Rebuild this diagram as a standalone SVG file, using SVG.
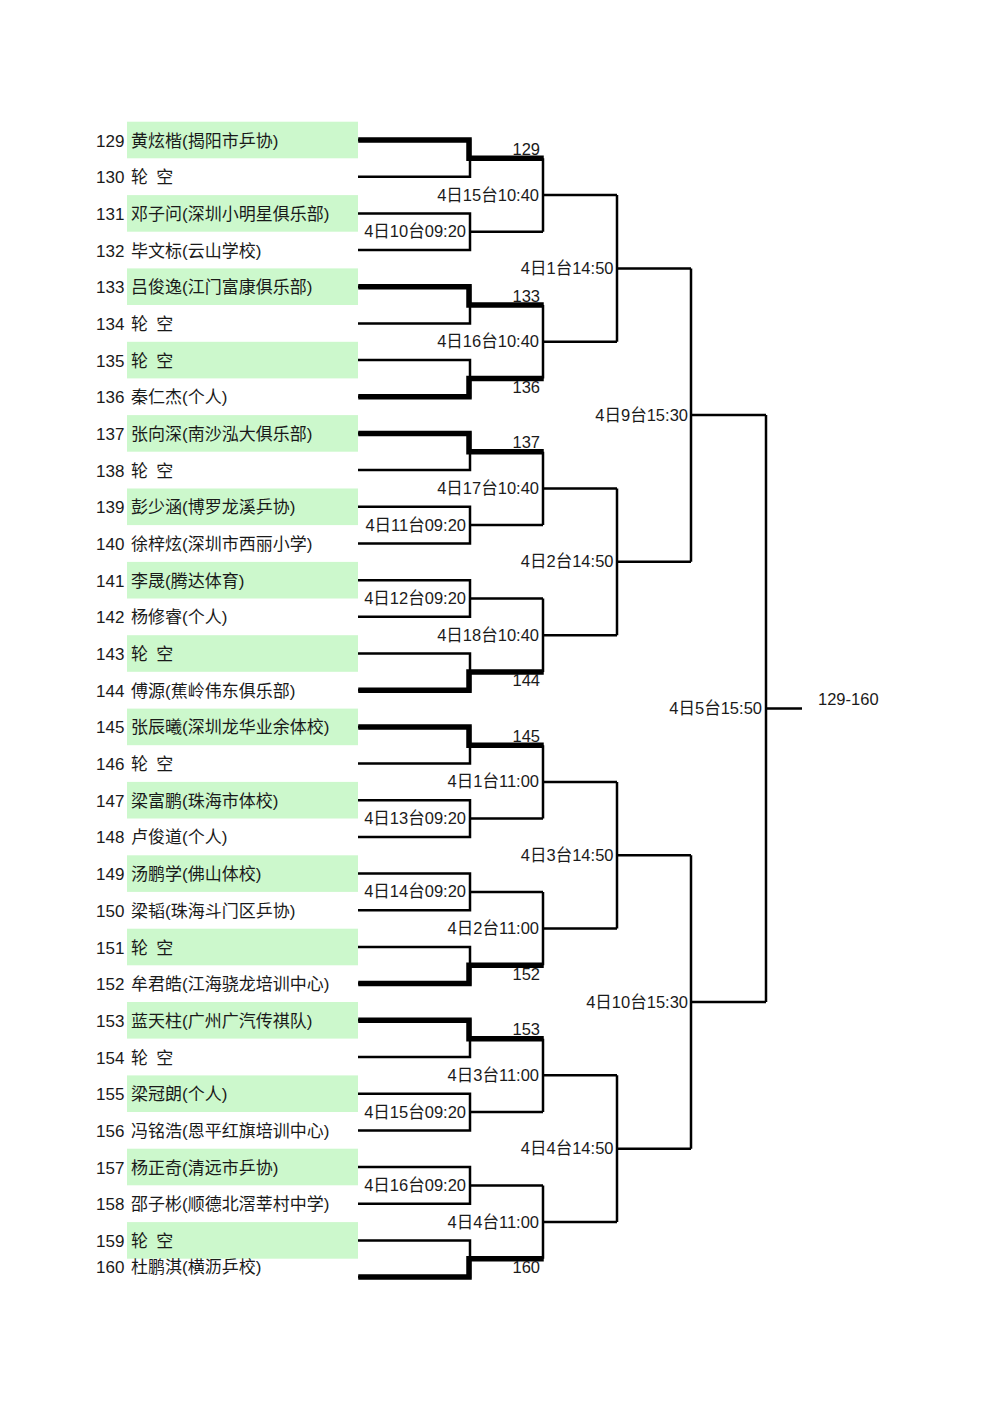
<svg xmlns="http://www.w3.org/2000/svg" width="1000" height="1414" viewBox="0 0 1000 1414">
<style>
text{font-family:"Liberation Sans","Noto Sans CJK SC",sans-serif;font-size:17px;fill:#1a1a1a}
#match-labels text{font-size:16.5px}
.bg{fill:#ccf8cc}
.thin{fill:none;stroke:#000;stroke-width:2.5}
.thick{fill:none;stroke:#000;stroke-width:5.5;stroke-linejoin:miter;stroke-linecap:square}
.e{text-anchor:end}
.by{word-spacing:3.5px}
</style>
<rect width="1000" height="1414" fill="#fff"/>
<g id="players">
<g id="p129"><rect class="bg" x="127" y="121.7" width="231" height="36.6"/><text x="96" y="146.5">129<tspan x="131">黄炫楷(揭阳市乒协)</tspan></text></g>
<g id="p130"><text x="96" y="183.2">130<tspan x="131" class="by">轮 空</tspan></text></g>
<g id="p131"><rect class="bg" x="127" y="195.1" width="231" height="36.6"/><text x="96" y="219.9">131<tspan x="131">邓子问(深圳小明星俱乐部)</tspan></text></g>
<g id="p132"><text x="96" y="256.5">132<tspan x="131">毕文标(云山学校)</tspan></text></g>
<g id="p133"><rect class="bg" x="127" y="268.4" width="231" height="36.6"/><text x="96" y="293.2">133<tspan x="131">吕俊逸(江门富康俱乐部)</tspan></text></g>
<g id="p134"><text x="96" y="329.9">134<tspan x="131" class="by">轮 空</tspan></text></g>
<g id="p135"><rect class="bg" x="127" y="341.8" width="231" height="36.6"/><text x="96" y="366.6">135<tspan x="131" class="by">轮 空</tspan></text></g>
<g id="p136"><text x="96" y="403.3">136<tspan x="131">秦仁杰(个人)</tspan></text></g>
<g id="p137"><rect class="bg" x="127" y="415.1" width="231" height="36.6"/><text x="96" y="439.9">137<tspan x="131">张向深(南沙泓大俱乐部)</tspan></text></g>
<g id="p138"><text x="96" y="476.6">138<tspan x="131" class="by">轮 空</tspan></text></g>
<g id="p139"><rect class="bg" x="127" y="488.5" width="231" height="36.6"/><text x="96" y="513.3">139<tspan x="131">彭少涵(博罗龙溪乒协)</tspan></text></g>
<g id="p140"><text x="96" y="550">140<tspan x="131">徐梓炫(深圳市西丽小学)</tspan></text></g>
<g id="p141"><rect class="bg" x="127" y="561.9" width="231" height="36.6"/><text x="96" y="586.7">141<tspan x="131">李晟(腾达体育)</tspan></text></g>
<g id="p142"><text x="96" y="623.3">142<tspan x="131">杨修睿(个人)</tspan></text></g>
<g id="p143"><rect class="bg" x="127" y="635.2" width="231" height="36.6"/><text x="96" y="660">143<tspan x="131" class="by">轮 空</tspan></text></g>
<g id="p144"><text x="96" y="696.7">144<tspan x="131">傅源(蕉岭伟东俱乐部)</tspan></text></g>
<g id="p145"><rect class="bg" x="127" y="708.6" width="231" height="36.6"/><text x="96" y="733.4">145<tspan x="131">张辰曦(深圳龙华业余体校)</tspan></text></g>
<g id="p146"><text x="96" y="770.1">146<tspan x="131" class="by">轮 空</tspan></text></g>
<g id="p147"><rect class="bg" x="127" y="781.9" width="231" height="36.6"/><text x="96" y="806.7">147<tspan x="131">梁富鹏(珠海市体校)</tspan></text></g>
<g id="p148"><text x="96" y="843.4">148<tspan x="131">卢俊道(个人)</tspan></text></g>
<g id="p149"><rect class="bg" x="127" y="855.3" width="231" height="36.6"/><text x="96" y="880.1">149<tspan x="131">汤鹏学(佛山体校)</tspan></text></g>
<g id="p150"><text x="96" y="916.8">150<tspan x="131">梁韬(珠海斗门区乒协)</tspan></text></g>
<g id="p151"><rect class="bg" x="127" y="928.7" width="231" height="36.6"/><text x="96" y="953.5">151<tspan x="131" class="by">轮 空</tspan></text></g>
<g id="p152"><text x="96" y="990.1">152<tspan x="131">牟君皓(江海骁龙培训中心)</tspan></text></g>
<g id="p153"><rect class="bg" x="127" y="1002" width="231" height="36.6"/><text x="96" y="1026.8">153<tspan x="131">蓝天柱(广州广汽传祺队)</tspan></text></g>
<g id="p154"><text x="96" y="1063.5">154<tspan x="131" class="by">轮 空</tspan></text></g>
<g id="p155"><rect class="bg" x="127" y="1075.4" width="231" height="36.6"/><text x="96" y="1100.2">155<tspan x="131">梁冠朗(个人)</tspan></text></g>
<g id="p156"><text x="96" y="1136.9">156<tspan x="131">冯铭浩(恩平红旗培训中心)</tspan></text></g>
<g id="p157"><rect class="bg" x="127" y="1148.7" width="231" height="36.6"/><text x="96" y="1173.5">157<tspan x="131">杨正奇(清远市乒协)</tspan></text></g>
<g id="p158"><text x="96" y="1210.2">158<tspan x="131">邵子彬(顺德北滘莘村中学)</tspan></text></g>
<g id="p159"><rect class="bg" x="127" y="1222.1" width="231" height="36.6"/><text x="96" y="1246.9">159<tspan x="131" class="by">轮 空</tspan></text></g>
<g id="p160"><text x="96" y="1273.3">160<tspan x="131">杜鹏淇(横沥乒校)</tspan></text></g>
</g>
<g id="connectors">
<path class="thin" d="M358,140H470V176.7H358M470,158.3H543
M358,213.4H470V250H358M470,231.7H543
M358,286.7H470V323.4H358M470,305.1H543
M358,360.1H470V396.8H358M470,378.4H543
M358,433.4H470V470.1H358M470,451.8H543
M358,506.8H470V543.5H358M470,525.1H543
M358,580.2H470V616.8H358M470,598.5H543
M358,653.5H470V690.2H358M470,671.9H543
M358,726.9H470V763.6H358M470,745.2H543
M358,800.2H470V836.9H358M470,818.6H543
M358,873.6H470V910.3H358M470,891.9H543
M358,947H470V983.6H358M470,965.3H543
M358,1020.3H470V1057H358M470,1038.7H543
M358,1093.7H470V1130.4H358M470,1112H543
M358,1167H470V1203.7H358M470,1185.4H543
M358,1240.4H470V1277.1H358M470,1258.7H543"/>
<path class="thin" d="M543,158.3V231.7M543,195H617
M543,305.1V378.4M543,341.7H617
M543,451.8V525.1M543,488.4H617
M543,598.5V671.9M543,635.2H617
M543,745.2V818.6M543,781.9H617
M543,891.9V965.3M543,928.6H617
M543,1038.7V1112M543,1075.3H617
M543,1185.4V1258.7M543,1222H617"/>
<path class="thin" d="M617,195V341.7M617,268.4H691
M617,488.4V635.2M617,561.8H691
M617,781.9V928.6M617,855.3H691
M617,1075.3V1222M617,1148.7H691"/>
<path class="thin" d="M691,268.4V561.8M691,415.1H766
M691,855.3V1148.7M691,1002H766"/>
<path class="thin" d="M766,415.1V1002M766,708.5H802"/>
<path class="thick" d="M361,140H469V158.3H541
M361,286.7H469V305.1H541
M361,396.8H469V378.4H541
M361,433.4H469V451.8H541
M361,690.2H469V671.9H541
M361,726.9H469V745.2H541
M361,983.6H469V965.3H541
M361,1020.3H469V1038.7H541
M361,1277.1H469V1258.7H541"/>
</g>
<g id="match-labels">
<text class="e" x="540" y="154.8">129</text>
<text class="e" x="466" y="237.2">4日10台09:20</text>
<text class="e" x="540" y="301.6">133</text>
<text class="e" x="540" y="393">136</text>
<text class="e" x="540" y="448.3">137</text>
<text class="e" x="466" y="530.6">4日11台09:20</text>
<text class="e" x="466" y="604">4日12台09:20</text>
<text class="e" x="540" y="686.4">144</text>
<text class="e" x="540" y="741.7">145</text>
<text class="e" x="466" y="824.1">4日13台09:20</text>
<text class="e" x="466" y="897.4">4日14台09:20</text>
<text class="e" x="540" y="979.8">152</text>
<text class="e" x="540" y="1035.2">153</text>
<text class="e" x="466" y="1117.5">4日15台09:20</text>
<text class="e" x="466" y="1190.9">4日16台09:20</text>
<text class="e" x="540" y="1273.3">160</text>
<text class="e" x="539" y="200.5">4日15台10:40</text>
<text class="e" x="539" y="347.2">4日16台10:40</text>
<text class="e" x="539" y="493.9">4日17台10:40</text>
<text class="e" x="539" y="640.7">4日18台10:40</text>
<text class="e" x="539" y="787.4">4日1台11:00</text>
<text class="e" x="539" y="934.1">4日2台11:00</text>
<text class="e" x="539" y="1080.8">4日3台11:00</text>
<text class="e" x="539" y="1227.5">4日4台11:00</text>
<text class="e" x="613.5" y="273.9">4日1台14:50</text>
<text class="e" x="613.5" y="567.3">4日2台14:50</text>
<text class="e" x="613.5" y="860.8">4日3台14:50</text>
<text class="e" x="613.5" y="1154.2">4日4台14:50</text>
<text class="e" x="688" y="420.6">4日9台15:30</text>
<text class="e" x="688" y="1007.5">4日10台15:30</text>
<text class="e" x="762" y="714">4日5台15:50</text>
<text x="818" y="705">129-160</text>
</g>
</svg>
